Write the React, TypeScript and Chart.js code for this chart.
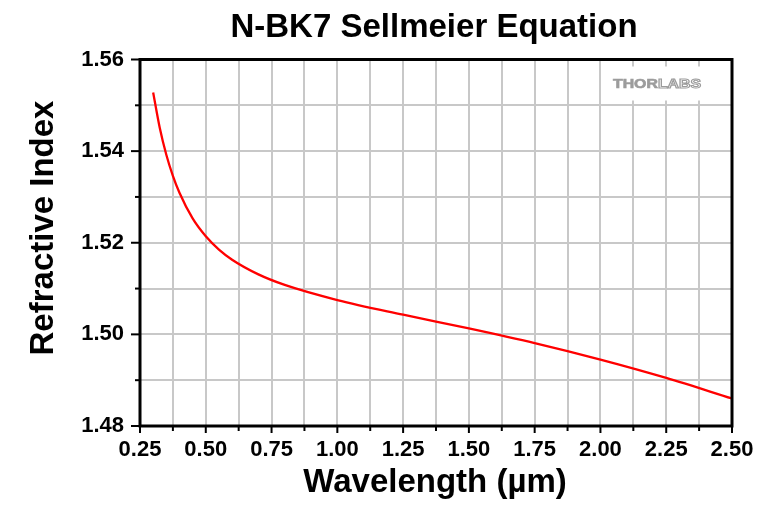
import React, { useEffect, useRef } from "react";
import { Chart, registerables } from "chart.js";

Chart.register(...registerables);

// ---- data ----
const wavelengths = [0.3, 0.325, 0.35, 0.375, 0.4, 0.45, 0.5, 0.55, 0.6, 0.7, 0.8, 1.0, 1.25, 1.5, 1.75, 2.0, 2.25, 2.5];
const refractiveIndex = [1.5528, 1.5451, 1.5392, 1.5346, 1.5309, 1.5253, 1.5214, 1.5185, 1.5163, 1.5131, 1.5108, 1.5075, 1.5043, 1.5013, 1.4981, 1.4945, 1.4905, 1.486];
const xRange = [0.25, 2.5];
const yRange = [1.48, 1.56];
const xMajorStep = 0.25;
const yMajorStep = 0.02;
const chartTitle = "N-BK7 Sellmeier Equation";
const xTitle = "Wavelength (µm)";
const yTitle = "Refractive Index";
const watermarkParts = ["THOR", "LABS"];

const FONT = "Arial, 'Liberation Sans', Helvetica, sans-serif";

const isMajor = (v: number, step: number) => Math.abs(v / step - Math.round(v / step)) < 1e-6;

const decorPlugin = {
  id: "decor",
  beforeDatasetsDraw(chart: any) {
    const { ctx, chartArea: a } = chart;
    ctx.save();
    // watermark box
    ctx.fillStyle = "#ffffff";
    ctx.fillRect(a.right - 121, a.top + 7, 114, 34);
    ctx.font = `bold 12px ${FONT}`;
    const w1 = ctx.measureText(watermarkParts[0]).width;
    const w2 = ctx.measureText(watermarkParts[1]).width;
    const sx = 88 / (w1 + w2);
    ctx.translate(a.right - 119, a.top + 28.5);
    ctx.scale(sx, 1);
    ctx.textBaseline = "alphabetic";
    ctx.textAlign = "left";
    ctx.fillStyle = "#9c9c9c";
    ctx.strokeStyle = "#9c9c9c";
    ctx.lineWidth = 0.6;
    ctx.fillText(watermarkParts[0], 0, 0);
    ctx.strokeText(watermarkParts[0], 0, 0);
    ctx.lineWidth = 1;
    ctx.strokeText(watermarkParts[1], w1, 0);
    ctx.restore();
  },
  afterDraw(chart: any) {
    const { ctx, chartArea: a, scales } = chart;
    ctx.save();
    ctx.strokeStyle = "#000";
    ctx.lineWidth = 2;
    // x ticks
    scales.x.ticks.forEach((t: any) => {
      const px = scales.x.getPixelForValue(t.value);
      const len = isMajor(t.value, xMajorStep) ? 7 : 5;
      ctx.beginPath();
      ctx.moveTo(px, a.bottom);
      ctx.lineTo(px, a.bottom + len);
      ctx.stroke();
    });
    // y ticks
    scales.y.ticks.forEach((t: any) => {
      const py = scales.y.getPixelForValue(t.value);
      const len = isMajor(t.value - yRange[0], yMajorStep) ? 9 : 5;
      ctx.beginPath();
      ctx.moveTo(a.left, py);
      ctx.lineTo(a.left - len, py);
      ctx.stroke();
    });
    // frame
    ctx.lineWidth = 3;
    ctx.strokeRect(a.left, a.top, a.right - a.left, a.bottom - a.top);

    // titles
    ctx.fillStyle = "#000";
    ctx.textBaseline = "alphabetic";
    ctx.textAlign = "center";
    ctx.font = `bold 33px ${FONT}`;
    ctx.fillText(chartTitle, 434, 37);
    ctx.fillText(xTitle, 435, 492);
    ctx.translate(53, 228);
    ctx.rotate(-Math.PI / 2);
    ctx.fillText(yTitle, 0, 0);
    ctx.restore();
  },
};

export default function App() {
  const ref = useRef<HTMLCanvasElement>(null);
  useEffect(() => {
    if (!ref.current) return;
    const chart = new Chart(ref.current, {
      type: "line",
      data: {
        datasets: [
          {
            data: wavelengths.map((x, i) => ({ x, y: refractiveIndex[i] })),
            borderColor: "#ff0000",
            borderWidth: 2.3,
            pointRadius: 0,
            cubicInterpolationMode: "monotone",
            fill: false,
          },
        ],
      },
      options: {
        animation: false,
        responsive: true,
        maintainAspectRatio: false,
        layout: { padding: { top: 59.5, right: 48, left: 0, bottom: 0 } },
        plugins: { legend: { display: false }, title: { display: false }, tooltip: { enabled: false } },
        scales: {
          x: {
            type: "linear",
            min: xRange[0],
            max: xRange[1],
            afterFit: (s: any) => {
              s.height = 85;
            },
            grid: { color: "#c8c8c8", lineWidth: 2, drawTicks: false },
            border: { display: false },
            ticks: {
              stepSize: xMajorStep / 2,
              autoSkip: false,
              maxRotation: 0,
              padding: 11,
              color: "#000",
              font: { family: FONT, size: 22, weight: "bold" },
              callback: (v: any) => (isMajor(Number(v), xMajorStep) ? Number(v).toFixed(2) : ""),
            },
          },
          y: {
            type: "linear",
            min: yRange[0],
            max: yRange[1],
            afterFit: (s: any) => {
              s.width = 140;
            },
            grid: { color: "#c8c8c8", lineWidth: 2, drawTicks: false },
            border: { display: false },
            ticks: {
              stepSize: yMajorStep / 2,
              autoSkip: false,
              padding: 16,
              color: "#000",
              font: { family: FONT, size: 22, weight: "bold" },
              callback: (v: any) => (isMajor(Number(v) - yRange[0], yMajorStep) ? Number(v).toFixed(2) : ""),
            },
          },
        },
      },
      plugins: [decorPlugin],
    } as any);
    return () => chart.destroy();
  }, []);
  return (
    <div style={{ position: "absolute", left: 0, top: 0, width: 780, height: 511, background: "#fff" }}>
      <canvas ref={ref} />
    </div>
  );
}
